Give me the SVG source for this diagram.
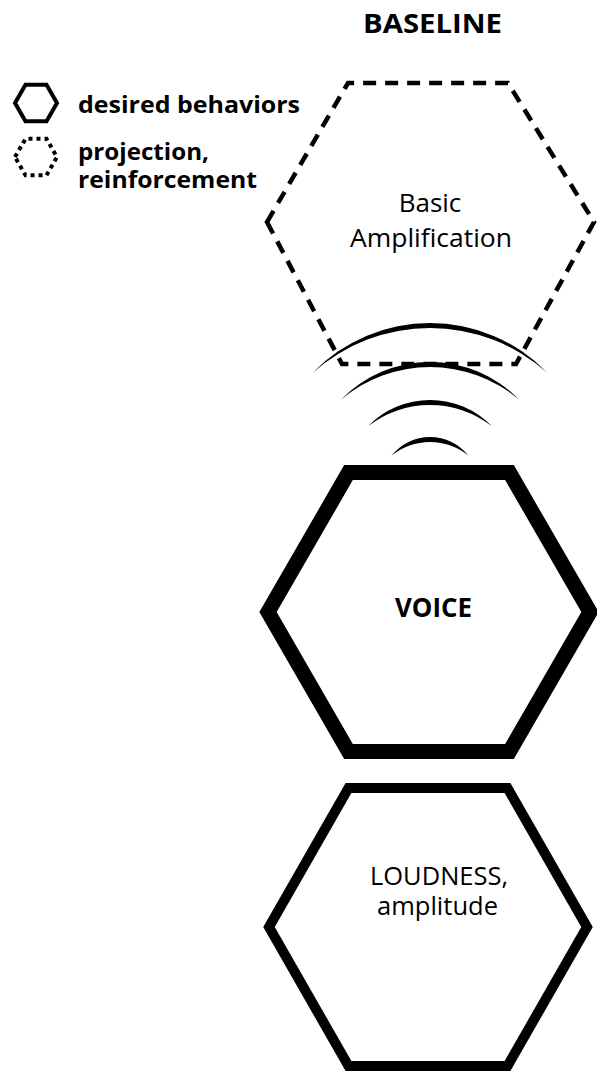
<svg xmlns="http://www.w3.org/2000/svg" width="597" height="1074" viewBox="0 0 597 1074">
<style>
.b{font-family:"Open Sans","Liberation Sans",sans-serif;font-weight:bold;fill:#000}
.r{font-family:"Open Sans","Liberation Sans",sans-serif;fill:#000}
.hex{fill:none;stroke:#000;stroke-linejoin:miter}
.arc{fill:#000;stroke:none}
</style>
<rect width="597" height="1074" fill="#fff"/>
<text class="b" x="432.5" y="33" font-size="27" text-anchor="middle" textLength="139" lengthAdjust="spacingAndGlyphs">BASELINE</text>
<g id="legend">
<polygon class="hex" stroke-width="4" points="15,103 25.5,84.8 46.5,84.8 57,103 46.5,121.2 25.5,121.2"/>
<polygon class="hex" stroke-width="4" stroke-dasharray="4 4" points="15,157 25.5,138.8 46.5,138.8 57,157 46.5,175.2 25.5,175.2"/>
<text class="b" x="78" y="113" font-size="24" textLength="222" lengthAdjust="spacingAndGlyphs">desired behaviors</text>
<text class="b" x="78" y="160" font-size="23" textLength="131" lengthAdjust="spacingAndGlyphs">projection,</text>
<text class="b" x="78" y="188" font-size="23" textLength="179" lengthAdjust="spacingAndGlyphs">reinforcement</text>
</g>
<g id="amplification">
<polygon class="hex" stroke-width="4.5" stroke-dasharray="13 9" points="267,222 348,83 508,83 594,222 516,364 342,364"/>
<text class="r" x="430" y="212" font-size="26" text-anchor="middle">Basic</text>
<text class="r" x="431" y="247" font-size="26" text-anchor="middle" textLength="162" lengthAdjust="spacingAndGlyphs">Amplification</text>
</g>
<g id="connectors">
<path class="arc" d="M312.8,372.7 A163,163 0 0 1 547.2,372.7 A176,176 0 0 0 312.8,372.7 Z"/>
<path class="arc" d="M340.8,399.8 A124,124 0 0 1 519.2,399.8 A137.7,137.7 0 0 0 340.8,399.8 Z"/>
<path class="arc" d="M368.1,426.2 A86,86 0 0 1 491.9,426.2 A101,101 0 0 0 368.1,426.2 Z"/>
<path class="arc" d="M391.4,455.8 A49,49 0 0 1 468.6,455.8 A60.9,60.9 0 0 0 391.4,455.8 Z"/>
</g>
<g id="voice">
<polygon class="hex" stroke-width="15" points="268,612 348.5,472.6 509.5,472.6 590,612 509.5,751.4 348.5,751.4"/>
<text class="b" x="433.5" y="617" font-size="26" text-anchor="middle" textLength="77" lengthAdjust="spacingAndGlyphs">VOICE</text>
</g>
<g id="loudness">
<polygon class="hex" stroke-width="10" points="269,927 348.5,788 507.5,788 587,927 507.5,1066 348.5,1066"/>
<text class="r" x="439" y="885" font-size="25" text-anchor="middle" textLength="138" lengthAdjust="spacingAndGlyphs">LOUDNESS,</text>
<text class="r" x="437.5" y="915" font-size="25" text-anchor="middle" textLength="121" lengthAdjust="spacingAndGlyphs">amplitude</text>
</g>
</svg>
